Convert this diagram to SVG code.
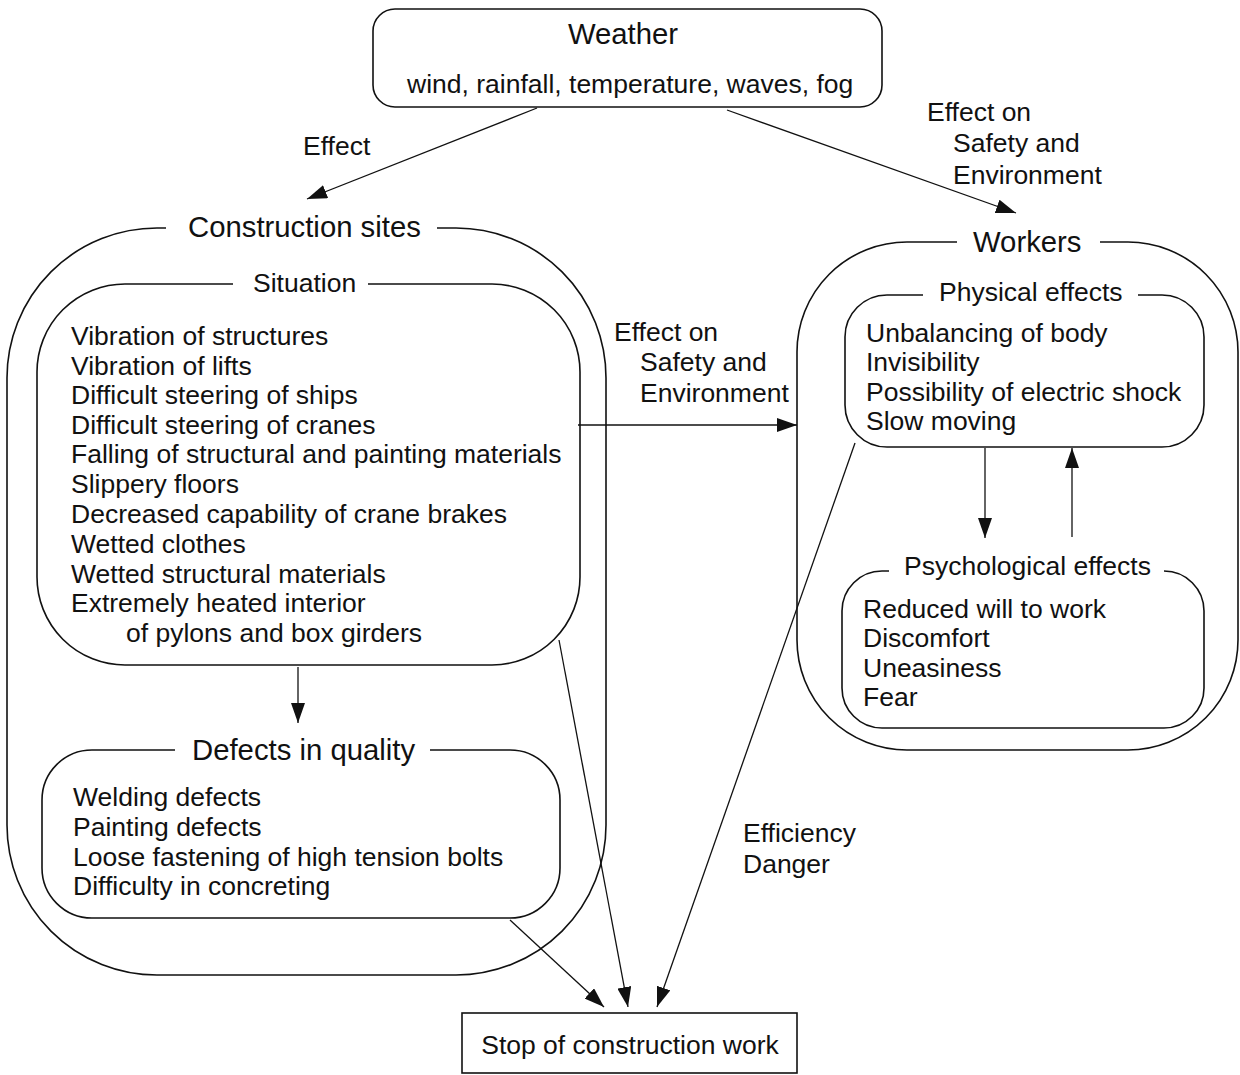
<svg xmlns="http://www.w3.org/2000/svg" width="1240" height="1075" viewBox="0 0 1240 1075">
<style>
text{font-family:"Liberation Sans",Arial,sans-serif;fill:#111}
.b{font-size:26.5px}
.t{font-size:29.3px}
.box{fill:none;stroke:#111;stroke-width:1.6}
.ln{fill:none;stroke:#111;stroke-width:1.3}
</style>
<defs>
<marker id="ah" markerUnits="userSpaceOnUse" markerWidth="22" markerHeight="14" refX="20" refY="7" orient="auto">
<path d="M0,0 L20,7 L0,14 z" fill="#111"/>
</marker>
</defs>
<rect width="1240" height="1075" fill="#fff"/>
<g id="connectors">
<line class="ln" x1="537" y1="108" x2="307" y2="199" marker-end="url(#ah)"/>
<line class="ln" x1="727" y1="110" x2="1016" y2="213" marker-end="url(#ah)"/>
<line class="ln" x1="578" y1="425" x2="797" y2="425" marker-end="url(#ah)"/>
<line class="ln" x1="298" y1="667" x2="298" y2="723" marker-end="url(#ah)"/>
<line class="ln" x1="510" y1="920" x2="604" y2="1007" marker-end="url(#ah)"/>
<line class="ln" x1="559" y1="640" x2="628" y2="1007" marker-end="url(#ah)"/>
<line class="ln" x1="855" y1="443" x2="657" y2="1007" marker-end="url(#ah)"/>
<line class="ln" x1="985" y1="448" x2="985" y2="538" marker-end="url(#ah)"/>
<line class="ln" x1="1072" y1="537" x2="1072" y2="448" marker-end="url(#ah)"/>
<text class="b" x="303" y="155">Effect</text>
<text class="b" x="927" y="121">Effect on</text>
<text class="b" x="953" y="152">Safety and</text>
<text class="b" x="953" y="184">Environment</text>
<text class="b" x="614" y="341">Effect on</text>
<text class="b" x="640" y="371">Safety and</text>
<text class="b" x="640" y="402">Environment</text>
<text class="b" x="743" y="842">Efficiency</text>
<text class="b" x="743" y="873">Danger</text>
</g>
<g id="weather">
<rect class="box" x="373" y="9" width="509" height="98" rx="22"/>
<text class="t" x="623" y="44" text-anchor="middle">Weather</text>
<text class="b" x="407" y="93">wind, rainfall, temperature, waves, fog</text>
</g>
<g id="construction-sites">
<path class="box" d="M437 228 H456 A150 150 0 0 1 606 378 V825 A150 150 0 0 1 456 975 H157 A150 150 0 0 1 7 825 V378 A150 150 0 0 1 157 228 H166"/>
<text class="t" x="188" y="237">Construction sites</text>
</g>
<g id="situation">
<path class="box" d="M368 284 H492 A88 88 0 0 1 580 372 V577 A88 88 0 0 1 492 665 H125 A88 88 0 0 1 37 577 V372 A88 88 0 0 1 125 284 H233"/>
<text class="b" x="253" y="292">Situation</text>
<text class="b" x="71" y="345">Vibration of structures</text>
<text class="b" x="71" y="375">Vibration of lifts</text>
<text class="b" x="71" y="404">Difficult steering of ships</text>
<text class="b" x="71" y="434">Difficult steering of cranes</text>
<text class="b" x="71" y="463">Falling of structural and painting materials</text>
<text class="b" x="71" y="493">Slippery floors</text>
<text class="b" x="71" y="523">Decreased capability of crane brakes</text>
<text class="b" x="71" y="553">Wetted clothes</text>
<text class="b" x="71" y="583">Wetted structural materials</text>
<text class="b" x="71" y="612">Extremely heated interior</text>
<text class="b" x="126" y="642">of pylons and box girders</text>
</g>
<g id="defects">
<path class="box" d="M430 750 H510 A50 50 0 0 1 560 800 V868 A50 50 0 0 1 510 918 H92 A50 50 0 0 1 42 868 V800 A50 50 0 0 1 92 750 H175"/>
<text class="t" x="192" y="760">Defects in quality</text>
<text class="b" x="73" y="806">Welding defects</text>
<text class="b" x="73" y="836">Painting defects</text>
<text class="b" x="73" y="866">Loose fastening of high tension bolts</text>
<text class="b" x="73" y="895">Difficulty in concreting</text>
</g>
<g id="workers">
<path class="box" d="M1100 242 H1128 A110 110 0 0 1 1238 352 V640 A110 110 0 0 1 1128 750 H907 A110 110 0 0 1 797 640 V352 A110 110 0 0 1 907 242 H957"/>
<text class="t" x="973" y="252">Workers</text>
</g>
<g id="physical-effects">
<path class="box" d="M1138 295 H1162 A42 42 0 0 1 1204 337 V405 A42 42 0 0 1 1162 447 H887 A42 42 0 0 1 845 405 V337 A42 42 0 0 1 887 295 H923"/>
<text class="b" x="939" y="301">Physical effects</text>
<text class="b" x="866" y="342">Unbalancing of body</text>
<text class="b" x="866" y="371">Invisibility</text>
<text class="b" x="866" y="401">Possibility of electric shock</text>
<text class="b" x="866" y="430">Slow moving</text>
</g>
<g id="psychological-effects">
<path class="box" d="M1164 571 A40 40 0 0 1 1204 611 V688 A40 40 0 0 1 1164 728 H882 A40 40 0 0 1 842 688 V611 A40 40 0 0 1 882 571 H889"/>
<text class="b" x="904" y="575">Psychological effects</text>
<text class="b" x="863" y="618">Reduced will to work</text>
<text class="b" x="863" y="647">Discomfort</text>
<text class="b" x="863" y="677">Uneasiness</text>
<text class="b" x="863" y="706">Fear</text>
</g>
<g id="stop">
<rect class="box" x="462" y="1013" width="335" height="60"/>
<text class="b" x="630" y="1054" text-anchor="middle">Stop of construction work</text>
</g>
</svg>
